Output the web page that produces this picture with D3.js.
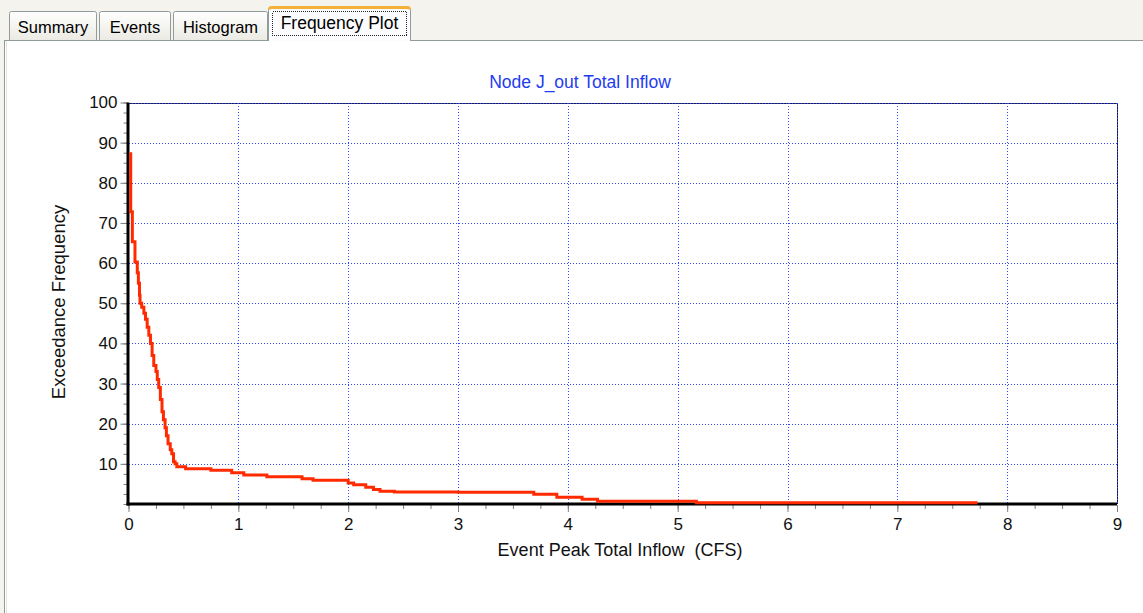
<!DOCTYPE html>
<html>
<head>
<meta charset="utf-8">
<script src="https://cdn.jsdelivr.net/npm/d3@7/dist/d3.min.js"></script>
<style>
  html, body { margin: 0; padding: 0; background: #f4f3ee; }
  svg { display: block; }
  text { font-family: "Liberation Sans", Arial, sans-serif; white-space: pre; }
</style>
</head>
<body>
<svg id="chart" width="1143" height="613"></svg>
<script>
// ---- data ----
const tabs = ["Summary", "Events", "Histogram", "Frequency Plot"];
const chartTitle = "Node J_out Total Inflow";
const xTitle = "Event Peak Total Inflow  (CFS)";
const yTitle = "Exceedance Frequency";
const xTickValues = [0, 1, 2, 3, 4, 5, 6, 7, 8, 9];
const yTickValues = [10, 20, 30, 40, 50, 60, 70, 80, 90, 100];
// step curve: flow at which each frequency level begins
const flows = [0.02, 0.02, 0.035, 0.059, 0.08, 0.09, 0.1, 0.105, 0.12, 0.14, 0.155, 0.17, 0.185, 0.2, 0.215, 0.23, 0.25, 0.262,
  0.275, 0.29, 0.305, 0.318, 0.333, 0.345, 0.36, 0.38, 0.394, 0.41, 0.424,
  0.44, 0.52, 0.75, 0.94, 1.05, 1.26, 1.58, 1.68, 2.0, 2.05, 2.16, 2.23, 2.29, 2.42, 3.0, 3.69, 3.9, 4.13, 4.27, 5.17, 7.73];
const freqs = [87.6, 72.8, 65.3, 60.3, 57.6, 55.0, 52.0, 50.0, 49.0, 47.5, 46.0, 44.0, 42.0, 40.0, 37.0, 34.5, 33.0, 31.0,
  29.0, 26.0, 23.0, 21.0, 19.0, 17.0, 15.0, 13.5, 12.5, 10.5, 10.0,
  9.3, 8.8, 8.4, 7.8, 7.2, 6.8, 6.3, 5.9, 5.2, 4.8, 4.2, 3.6, 3.2, 3.0, 2.9, 2.4, 1.7, 1.2, 0.7, 0.3, 0.3];

const svg = d3.select("#chart");

// ---- tab strip ----
const defs = svg.append("defs");
const grad = defs.append("linearGradient").attr("id", "tabg").attr("x1", 0).attr("y1", 0).attr("x2", 0).attr("y2", 1);
grad.append("stop").attr("offset", "0%").attr("stop-color", "#ffffff");
grad.append("stop").attr("offset", "100%").attr("stop-color", "#ebeae3");

svg.append("rect").attr("x", 0).attr("y", 0).attr("width", 1143).attr("height", 613).attr("fill", "#f4f3ee");
// panel
svg.append("rect").attr("x", 4.5).attr("y", 40.5).attr("width", 1150).attr("height", 600)
  .attr("fill", "#ffffff").attr("stroke", "#919b9c");
svg.append("line").attr("x1", 6.5).attr("x2", 6.5).attr("y1", 41).attr("y2", 613).attr("stroke", "#e4e3dc");

const tabX = [9, 99, 173, 268];
const tabW = [87, 71, 94, 142];
tabs.forEach((t, i) => {
  const active = i === 3;
  const g = svg.append("g");
  const x0 = tabX[i] + 0.5, y0 = active ? 7.5 : 11.5, w = tabW[i], h = (active ? 41 : 40) - y0;
  g.append("path")
    .attr("d", `M${x0},${y0 + h} V${y0 + 2} Q${x0},${y0} ${x0 + 2},${y0} H${x0 + w - 2} Q${x0 + w},${y0} ${x0 + w},${y0 + 2} V${y0 + h}`)
    .attr("fill", active ? "#fcfcfe" : "url(#tabg)").attr("stroke", "#919b9c");
  if (active) {
    g.append("path")
      .attr("d", `M${x0 + 1},${y0 + 2} Q${x0 + 1},${y0} ${x0 + 3},${y0} H${x0 + w - 3} Q${x0 + w - 1},${y0} ${x0 + w - 1},${y0 + 2}`)
      .attr("fill", "none").attr("stroke", "#f4b13a").attr("stroke-width", 3);
    g.append("rect").attr("x", x0 + 4).attr("y", 11.5).attr("width", w - 8).attr("height", 24)
      .attr("fill", "none").attr("stroke", "#222").attr("stroke-dasharray", "1,1").attr("shape-rendering", "crispEdges");
  }
  g.append("text").attr("x", x0 + w / 2).attr("y", active ? 29 : 33).attr("text-anchor", "middle")
    .attr("font-size", active ? 17.5 : 16.5).attr("fill", "#000").text(t);
});

// ---- chart ----
const x = d3.scaleLinear().domain([0, 9]).range([128.5, 1117]);
const y = d3.scaleLinear().domain([0, 100]).range([504, 102.5]);

const gridColor = "#2f45ff";
const grid = svg.append("g").attr("shape-rendering", "crispEdges");
// frame (top/right)
grid.append("line").attr("x1", x(0)).attr("x2", x(9)).attr("y1", Math.round(y(100)) + 0.5).attr("y2", Math.round(y(100)) + 0.5)
  .attr("stroke", "#1a1a40");
grid.append("line").attr("x1", Math.round(x(9)) + 0.5).attr("x2", Math.round(x(9)) + 0.5).attr("y1", y(100)).attr("y2", y(0))
  .attr("stroke", "#1a1a40");
grid.selectAll("line.v").data(xTickValues.filter(d => d > 0)).join("line").attr("class", "v")
  .attr("x1", d => Math.round(x(d)) + 0.5).attr("x2", d => Math.round(x(d)) + 0.5)
  .attr("y1", y(100)).attr("y2", y(0))
  .attr("stroke", gridColor).attr("stroke-dasharray", "1,2");
grid.selectAll("line.h").data(yTickValues).join("line").attr("class", "h")
  .attr("y1", d => Math.round(y(d)) + 0.5).attr("y2", d => Math.round(y(d)) + 0.5)
  .attr("x1", x(0)).attr("x2", x(9))
  .attr("stroke", gridColor).attr("stroke-dasharray", "1,2");

// minor ticks
const xMinor = d3.range(0, 9.001, 0.25);
const yMinor = d3.range(0, 100.001, 2.5);
const xAxisMinor = svg.append("g").attr("transform", `translate(0,${y(0) + 1})`)
  .call(d3.axisBottom(x).tickValues(xMinor).tickSize(4).tickFormat(""));
const yAxisMinor = svg.append("g").attr("transform", `translate(${x(0) - 1},0)`)
  .call(d3.axisLeft(y).tickValues(yMinor).tickSize(4).tickFormat(""));
const xAxis = svg.append("g").attr("transform", `translate(0,${y(0) + 1})`)
  .call(d3.axisBottom(x).tickValues(xTickValues).tickSize(7).tickPadding(6).tickFormat(d3.format("d")));
const yAxis = svg.append("g").attr("transform", `translate(${x(0) - 1},0)`)
  .call(d3.axisLeft(y).tickValues(yTickValues).tickSize(7).tickPadding(3).tickFormat(d3.format("d")));
[xAxisMinor, yAxisMinor, xAxis, yAxis].forEach(a => {
  a.select(".domain").remove();
  a.selectAll(".tick line").attr("stroke", "#808080");
  a.selectAll("text").attr("font-size", 17).attr("fill", "#111").attr("font-family", "'Liberation Sans', Arial, sans-serif");
});

// axis lines
svg.append("line").attr("x1", x(0) - 0.5).attr("x2", x(0) - 0.5).attr("y1", y(100)).attr("y2", y(0) + 1.5)
  .attr("stroke", "#000").attr("stroke-width", 3);
svg.append("line").attr("x1", x(0) - 2).attr("x2", x(9)).attr("y1", y(0)).attr("y2", y(0))
  .attr("stroke", "#000").attr("stroke-width", 3);

// curve
const pts = flows.map((f, i) => [f, freqs[i]]);
svg.append("path").datum(pts)
  .attr("d", d3.line().x(d => x(d[0])).y(d => y(d[1])).curve(d3.curveStepAfter))
  .attr("fill", "none").attr("stroke", "#ff2a00").attr("stroke-width", 3);

// titles
svg.append("text").attr("x", 580).attr("y", 88).attr("text-anchor", "middle")
  .attr("font-size", 17.5).attr("fill", "#1f3cf0").text(chartTitle);
svg.append("text").attr("x", 620).attr("y", 556).attr("text-anchor", "middle")
  .attr("font-size", 18).attr("fill", "#111").text(xTitle);
svg.append("text").attr("transform", "translate(65,302) rotate(-90)").attr("text-anchor", "middle")
  .attr("font-size", 18.5).attr("fill", "#111").text(yTitle);
</script>
</body>
</html>
